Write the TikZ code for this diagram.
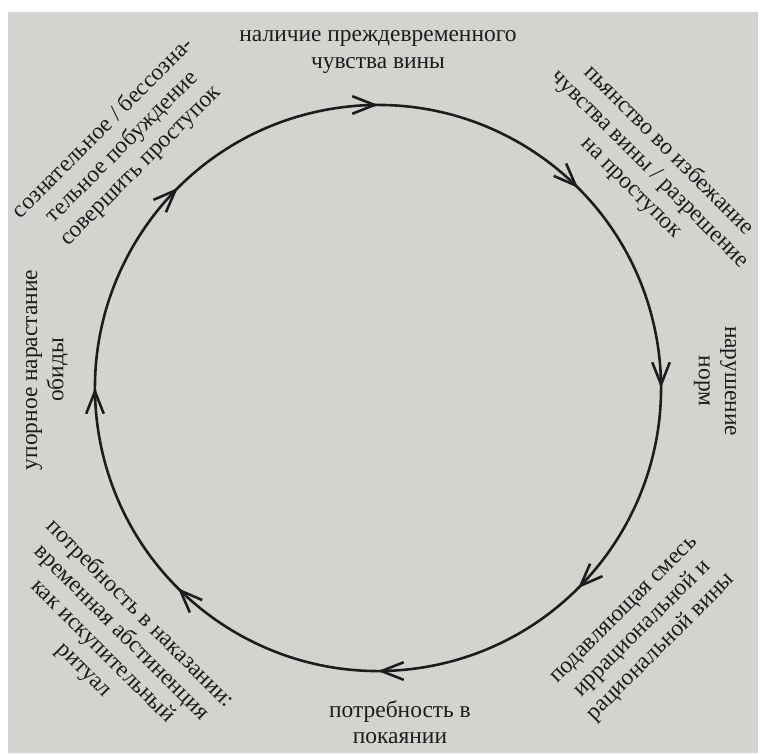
\documentclass[tikz,border=0pt]{standalone}
\usepackage{fontspec}
\setmainfont{Liberation Serif}
\usetikzlibrary{arrows.meta,decorations.markings}
\definecolor{paper}{RGB}{211,211,208}
\definecolor{ink}{RGB}{28,28,28}

\begin{document}
\begin{tikzpicture}[x=0.03cm, y=0.03cm,
  txt/.style={align=center, inner sep=0pt, text=ink,
    font=\fontsize{20}{22.5}\selectfont},
  cycleline/.style={ink, line width=2.2pt, postaction={decorate},
    decoration={markings,
      mark=between positions 0.0278 and 0.91 step 0.125 with
        {\arrow{Straight Barb[length=19pt,width=15pt]}}}}]
% page and scan background
\useasboundingbox (-378,-365) rectangle (380,388);
\fill[white] (-378,-365) rectangle (380,388);
\fill[paper] (-370,-365) rectangle (380,376);
% the cycle, clockwise
\coordinate (c) at (0,0);
\draw[cycleline] (100:283) arc[start angle=100, end angle=-260, radius=283];
% stages
\node[txt] (guilt) at (0,336) {наличие преждевременного\\чувства вины};
\node[txt, rotate=-45] (drink) at (272,219) {пьянство во избежание\\чувства вины / разрешение\\на проступок};
\node[txt, rotate=-90] (breach) at (337,7) {нарушение\\норм};
\node[txt, rotate=45] (mix) at (266,-242) {подавляющая смесь\\иррациональной и\\рациональной вины};
\node[txt] (penance) at (22,-334) {потребность в\\покаянии};
\node[txt, rotate=-45] (punish) at (-266,-254) {потребность в наказании:\\временная абстиненция\\как искупительный\\ритуал};
\node[txt, rotate=90] (resent) at (-331,18) {упорное нарастание\\обиды};
\node[txt, rotate=45] (urge) at (-256,241) {сознательное / бессозна-\\тельное побуждение\\совершить проступок};
\end{tikzpicture}
\end{document}
